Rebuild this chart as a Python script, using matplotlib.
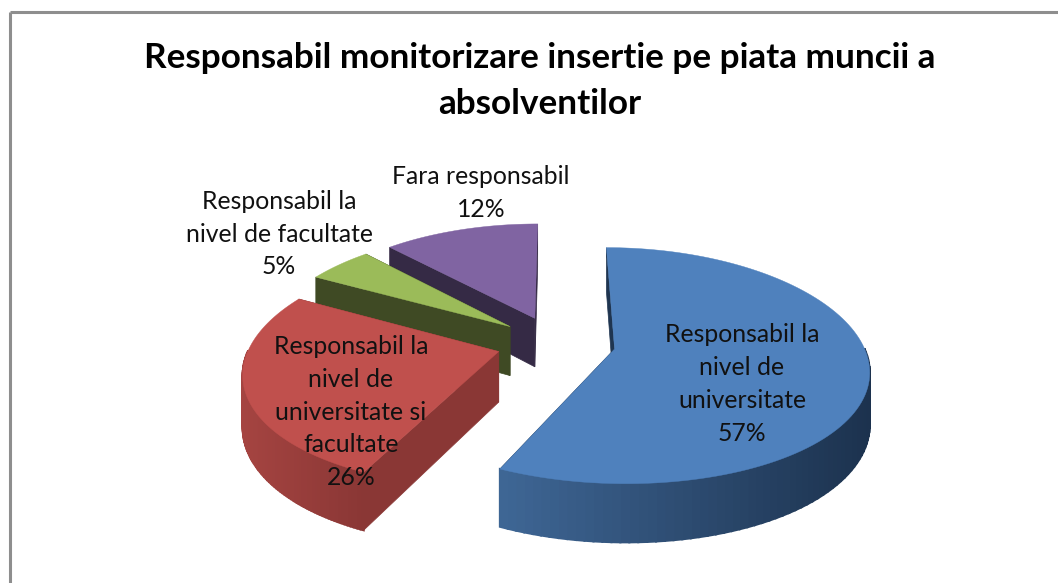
import numpy as np
import matplotlib.pyplot as plt
from matplotlib.colors import to_rgb

plt.rcParams['font.family'] = ['Lato', 'DejaVu Sans']

title = "Responsabil monitorizare insertie pe piata muncii a\nabsolventilor"
categories = ["Responsabil la\nnivel de\nuniversitate",
              "Responsabil la\nnivel de\nuniversitate si\nfacultate",
              "Responsabil la\nnivel de facultate",
              "Fara responsabil"]
values = [57, 26, 5, 12]

top_colors = ["#4F81BD", "#C0504D", "#9BBB59", "#8064A2"]
cut_colors = ["#1F3550", "#8A3735", "#3F4A24", "#352A45"]
rim_left = ["#3F6796", "#A54441", "#4A5729", "#40324F"]
rim_right = ["#1C324E", "#8A3735", "#3F4A24", "#352A45"]
label_x = [742, 351, 279, 481]
label_y = [384, 412, 234, 193]

# how the flat pie is seen: tilted, with some perspective
x0, y0 = 556, 343
a, b = 248, 114
px, py = 0.16, 0.14
depth = 50
explode = 0.24


def project(u, v):
    x = x0 + a * u / (1 + px * v)
    y = y0 - b * v / (1 + py * v)
    return x, y


def drop(v):
    return depth / (1 + py * v)


fig = plt.figure(figsize=(10.58, 5.83), dpi=100)
ax = fig.add_axes([0, 0, 1, 1])
ax.set_xlim(0, 1058)
ax.set_ylim(583, 0)
ax.axis("off")

# chart border
ax.plot([9.5, 9.5], [583, 11.5], color="#8E8E8E", lw=2.2, solid_capstyle="butt")
ax.plot([9.5, 1058], [11.5, 11.5], color="#8E8E8E", lw=2.2, solid_capstyle="butt")

ends = np.cumsum(values) / np.sum(values) * 2 * np.pi
starts = np.concatenate(([0], ends[:-1]))

# back slices first
for i in [3, 2, 1, 0]:
    mid = (starts[i] + ends[i]) / 2
    u0 = explode * np.sin(mid)
    v0 = explode * np.cos(mid)
    t = np.linspace(starts[i], ends[i], 120)
    u = u0 + np.sin(t)
    v = v0 + np.cos(t)
    x, y = project(u, v)
    ax_, ay_ = project(u0, v0)

    # cut faces
    for k in [0, -1]:
        ax.fill([ax_, x[k], x[k], ax_],
                [ay_, y[k], y[k] + drop(v[k]), ay_ + drop(v0)],
                color=cut_colors[i], lw=0.5, zorder=i * -10 + 1)

    # outer rim, shaded from left to right
    c1 = np.array(to_rgb(rim_left[i]))
    c2 = np.array(to_rgb(rim_right[i]))
    front = np.cos(t) < 0
    xmin = x[front].min() if front.any() else 0
    xmax = x.max()
    for j in range(len(t) - 1):
        if not front[j] and not front[j + 1]:
            continue
        f = np.clip((x[j] - xmin) / max(xmax - xmin, 1), 0, 1)
        ax.fill([x[j], x[j + 1], x[j + 1], x[j]],
                [y[j], y[j + 1], y[j + 1] + drop(v[j + 1]), y[j] + drop(v[j])],
                color=c1 + (c2 - c1) * f, lw=1.5, zorder=i * -10 + 2)

    # top face
    ax.fill(np.concatenate(([ax_], x)), np.concatenate(([ay_], y)),
            color=top_colors[i], lw=0.3, zorder=i * -10 + 3)

ax.text(540, 81, title, ha="center", va="center", fontsize=25.3, fontweight="bold",
        color="black", linespacing=1.52)

for i in range(len(values)):
    ax.text(label_x[i], label_y[i], categories[i] + "\n" + str(values[i]) + "%",
            ha="center", va="center", fontsize=17.8, color="#111111", linespacing=1.52)

fig.savefig("out.png", dpi=100)
